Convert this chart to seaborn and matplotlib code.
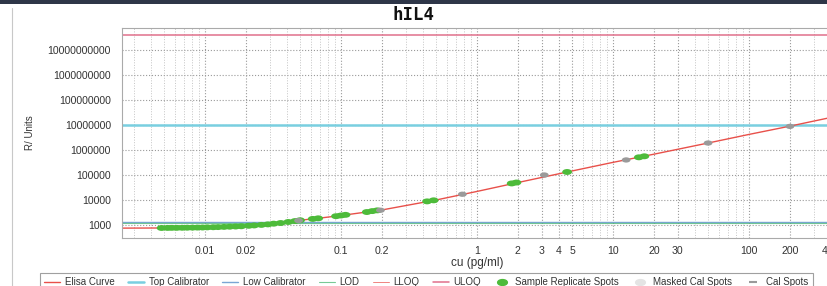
"""
hIL4 ELISA standard curve (log-log) with calibrator / limit lines.
"""

import matplotlib
matplotlib.use("Agg")
import matplotlib.pyplot as plt
import matplotlib.ticker as mticker
import matplotlib.transforms as mtransforms
from matplotlib.path import Path
from matplotlib.lines import Line2D
from matplotlib.patches import Rectangle
import seaborn as sns


# ============================================================================
# DATA
# ============================================================================

# Fitted ELISA curve
curve_x = [0.0025, 0.005, 0.01, 0.02, 0.03, 0.04, 0.05, 0.065, 0.1, 0.2,
           0.5, 1, 2, 5, 10, 20, 50, 100, 200, 400]
curve_y = [750, 760, 800, 920, 1100, 1300, 1550, 1800, 2400, 4000,
           10000, 22000, 50000, 145000, 320000, 680000, 1.9e6, 4.2e6, 9.0e6, 2.0e7]

# Sample replicate spots
sample_x = [0.0048, 0.0053, 0.0057, 0.0062, 0.0068, 0.0074, 0.0081, 0.0088,
            0.0096, 0.0104, 0.0115, 0.0125, 0.0138, 0.0152, 0.0168, 0.0185,
            0.021, 0.023, 0.026, 0.029, 0.032, 0.036, 0.041, 0.046, 0.05,
            0.062, 0.068, 0.092, 0.1, 0.108, 0.155, 0.17, 0.185, 0.43, 0.48,
            1.8, 1.95, 4.6, 15.5, 17.0]
sample_y = [760, 765, 770, 770, 775, 780, 785, 790,
            795, 805, 815, 825, 840, 855, 870, 890,
            930, 960, 1010, 1060, 1130, 1200, 1320, 1440, 1550,
            1750, 1850, 2250, 2400, 2550, 3300, 3600, 3850, 8800, 9700,
            46000, 50000, 132000, 510000, 560000]

# Calibrator spots (4-fold dilution series)
cal_x = [0.0488, 0.195, 0.781, 3.125, 12.5, 50, 200]
cal_y = [1500, 3900, 17000, 100000, 400000, 1.9e6, 8.8e6]

# Horizontal reference levels
top_calibrator = 1.0e7
low_calibrator = 1300
lod = 1250
lloq = 1350
uloq = 4.0e10

x_ticks = [0.01, 0.02, 0.1, 0.2, 1, 2, 3, 4, 5, 10, 20, 30, 100, 200, 400]
x_tick_labels = ["0.01", "0.02", "0.1", "0.2", "1", "2", "3", "4", "5",
                 "10", "20", "30", "100", "200", "400"]
y_ticks = [1e3, 1e4, 1e5, 1e6, 1e7, 1e8, 1e9, 1e10]
y_tick_labels = ["1000", "10000", "100000", "1000000", "10000000",
                 "100000000", "1000000000", "10000000000"]


# ============================================================================
# STYLE
# ============================================================================

RED = "#e8504a"
CYAN = "#79cfe0"
BLUE = "#7aa6d4"
GREEN = "#3fb36a"
PINK = "#e0708c"
SAMPLE_GREEN = "#4dbb3a"
MASKED_GREY = "#e4e4e4"
CAL_GREY = "#9a9a9a"

# Horizontally stretched dots, as in the scanned chart
ELLIPSE = Path.unit_circle().transformed(mtransforms.Affine2D().scale(1.0, 0.6))


def main():
    sns.set_style("white")
    plt.rcParams["font.family"] = ["Liberation Sans", "DejaVu Sans"]

    fig = plt.figure(figsize=(8.28, 2.86), dpi=100)
    ax = fig.add_axes([122 / 828, 48 / 286, 729 / 828, 210 / 286])
    ax.set_xscale("log")
    ax.set_yscale("log")

    # reference lines
    h_uloq = ax.axhline(uloq, color=PINK, lw=1.1, label="ULOQ")
    h_top = ax.axhline(top_calibrator, color=CYAN, lw=1.8, label="Top Calibrator")
    h_lloq = ax.axhline(lloq, color=RED, lw=0.7, alpha=0.7, label="LLOQ")
    h_low = ax.axhline(low_calibrator, color=BLUE, lw=1.0, label="Low Calibrator")
    h_lod = ax.axhline(lod, color=GREEN, lw=0.8, alpha=0.7, label="LOD")

    # curve and spots
    sns.lineplot(x=curve_x, y=curve_y, sort=False, estimator=None,
                 color=RED, lw=1.0, ax=ax, label="Elisa Curve")
    sns.scatterplot(x=sample_x, y=sample_y, marker=ELLIPSE, s=50,
                    color=SAMPLE_GREEN, edgecolor="none", ax=ax,
                    label="Sample Replicate Spots", zorder=4)
    sns.scatterplot(x=cal_x, y=cal_y, marker=ELLIPSE, s=40,
                    color=CAL_GREY, edgecolor="none", ax=ax,
                    label="Cal Spots", zorder=5)
    ax.get_legend().remove()

    h_curve = Line2D([], [], color=RED, lw=1.0)
    h_sample = Line2D([], [], ls="", marker=ELLIPSE, ms=7, color=SAMPLE_GREEN)
    h_masked = Line2D([], [], ls="", marker=ELLIPSE, ms=7, color=MASKED_GREY)
    h_cal = Line2D([], [], ls="", marker="_", ms=6, mew=1.5, color=CAL_GREY)

    ax.set_xlim(10 ** -2.61, 10 ** 2.75)
    ax.set_ylim(10 ** 2.48, 10 ** 10.88)

    ax.xaxis.set_major_locator(mticker.FixedLocator(x_ticks))
    ax.xaxis.set_major_formatter(mticker.FixedFormatter(x_tick_labels))
    ax.xaxis.set_minor_locator(mticker.LogLocator(base=10, subs=range(2, 10), numticks=20))
    ax.xaxis.set_minor_formatter(mticker.NullFormatter())
    ax.yaxis.set_major_locator(mticker.FixedLocator(y_ticks))
    ax.yaxis.set_major_formatter(mticker.FixedFormatter(y_tick_labels))
    ax.yaxis.set_minor_locator(mticker.LogLocator(base=10, subs=range(2, 10), numticks=20))
    ax.yaxis.set_minor_formatter(mticker.NullFormatter())

    ax.grid(which="major", ls=":", color="#9a9a9a", lw=0.8)
    ax.grid(which="minor", axis="x", ls=":", color="#c4c4c4", lw=0.7)
    ax.tick_params(which="major", length=3, width=0.6, color="#888",
                   labelsize=7.6, labelcolor="#333")
    ax.tick_params(axis="y", which="major", pad=5)
    ax.tick_params(axis="x", which="major", pad=3)
    ax.tick_params(which="minor", length=1.5, width=0.5, color="#aaa")
    for side in ax.spines.values():
        side.set_color("#aaaaaa")
        side.set_linewidth(0.8)

    ax.set_xlabel("cu (pg/ml)", fontsize=8.5, color="#333", labelpad=3)
    ax.set_ylabel("R/ Units", fontsize=7, color="#333", labelpad=0)
    ax.yaxis.set_label_coords(-(122 - 35) / 729, 0.5)
    ax.xaxis.set_label_coords((477 - 122) / 729, -0.09)

    fig.text(0.5, 1 - 15 / 286, "hIL4", ha="center", va="center",
             fontsize=12.5, fontweight="bold", family="DejaVu Sans Mono", color="#111")

    # window chrome from the screenshot
    fig.add_artist(Rectangle((0, 1 - 4 / 286), 1, 4 / 286, transform=fig.transFigure,
                             color="#2e3648", lw=0))
    fig.add_artist(Line2D([12 / 828, 12 / 828], [0, 1 - 8 / 286],
                          transform=fig.transFigure, color="#c8c8c8", lw=0.8))

    handles = [h_curve, h_top, h_low, h_lod, h_lloq, h_uloq, h_sample, h_masked, h_cal]
    labels = ["Elisa Curve", "Top Calibrator", "Low Calibrator", "LOD", "LLOQ",
              "ULOQ", "Sample Replicate Spots", "Masked Cal Spots", "Cal Spots"]
    leg = fig.legend(handles, labels, loc="upper left",
                     bbox_to_anchor=(40 / 828, 1 - 273 / 286), ncol=9,
                     frameon=True, fancybox=False, fontsize=7,
                     handlelength=1.6, handletextpad=0.5, columnspacing=1.4,
                     borderpad=0.45, borderaxespad=0)
    leg.get_frame().set_edgecolor("#888888")
    leg.get_frame().set_linewidth(0.8)
    for t in leg.get_texts():
        t.set_color("#333")

    fig.savefig("out.png", dpi=100)
    plt.close(fig)


if __name__ == "__main__":
    main()
